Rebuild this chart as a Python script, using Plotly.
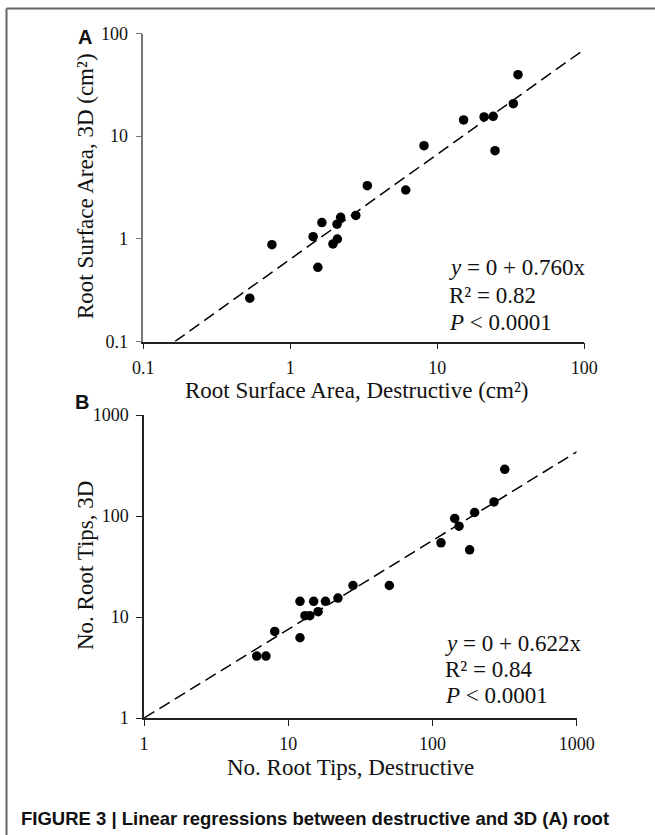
import plotly.graph_objects as go

W, H = 655, 835

# Panel A data: root surface area (cm^2)
a_destructive = [0.53, 0.75, 1.43, 1.54, 1.64, 1.95, 2.09, 2.08, 2.20, 2.79, 3.34, 6.10, 8.12, 15.1, 20.8, 24.0, 24.7, 32.9, 35.4]
a_3d = [0.264, 0.877, 1.05, 0.528, 1.44, 0.891, 0.996, 1.39, 1.62, 1.69, 3.29, 2.99, 8.07, 14.4, 15.4, 15.6, 7.22, 20.7, 39.7]
a_fit_x = [0.164, 100]
a_fit_y = [0.1, 70]
a_ticks = [0.1, 1, 10, 100]
a_ticktext = ["0.1", "1", "10", "100"]

# Panel B data: number of root tips
b_destructive = [6.04, 7.00, 8.05, 12.05, 12.05, 15.0, 18.1, 13.05, 14.1, 16.1, 22.1, 28.1, 50.2, 114.5, 181, 142.6, 152.7, 196, 267, 317]
b_3d = [4.1, 4.1, 7.2, 6.23, 14.3, 14.3, 14.3, 10.3, 10.3, 11.3, 15.4, 20.5, 20.5, 54.2, 46.2, 94.5, 79.3, 108.3, 137.8, 290]
b_fit_x = [1, 1000]
b_fit_y = [1, 432]
b_ticks = [1, 10, 100, 1000]
b_ticktext = ["1", "10", "100", "1000"]

SERIF = "Liberation Serif, Times New Roman, serif"
SANS = "Liberation Sans, Arial, sans-serif"


def px(x):
    return x / W


def py(y):
    return 1 - y / H


fig = go.Figure()

marker = dict(color="black", size=9.5)
dash_line = dict(color="black", width=1.5, dash="12px,6px")

fig.add_trace(go.Scatter(x=a_fit_x, y=a_fit_y, mode="lines", line=dash_line,
                         xaxis="x", yaxis="y", showlegend=False, hoverinfo="skip"))
fig.add_trace(go.Scatter(x=a_destructive, y=a_3d, mode="markers", marker=marker,
                         xaxis="x", yaxis="y", showlegend=False))
fig.add_trace(go.Scatter(x=b_fit_x, y=b_fit_y, mode="lines", line=dash_line,
                         xaxis="x2", yaxis="y2", showlegend=False, hoverinfo="skip"))
fig.add_trace(go.Scatter(x=b_destructive, y=b_3d, mode="markers", marker=marker,
                         xaxis="x2", yaxis="y2", showlegend=False))

tickfont = dict(family=SERIF, size=18, color="#111")


def axis(domain, rng, vals, text, anchor, linecolor="#222", standoff=6):
    return dict(domain=domain, type="log", range=rng, tickmode="array",
                tickvals=vals, ticktext=text, showline=True, linecolor=linecolor,
                linewidth=1.5, ticks="outside", ticklen=6, tickwidth=1.2,
                tickcolor=linecolor, showgrid=False, zeroline=False,
                tickfont=tickfont, anchor=anchor, automargin=False,
                ticklabelstandoff=standoff, fixedrange=True)


fig.update_layout(
    width=W, height=H,
    margin=dict(l=0, r=0, t=0, b=0),
    paper_bgcolor="white", plot_bgcolor="rgba(0,0,0,0)",
    xaxis=axis([px(143.3), px(584.3)], [-1, 2], a_ticks, a_ticktext, "y", standoff=3),
    yaxis=axis([py(341.5), py(33.5)], [-1, 2], a_ticks, a_ticktext, "x", linecolor="#777", standoff=4),
    xaxis2=axis([px(144.1), px(576.7)], [0, 3], b_ticks, b_ticktext, "y2", standoff=3),
    yaxis2=axis([py(718), py(415)], [0, 3], b_ticks, b_ticktext, "x2", standoff=4),
    showlegend=False,
)

ann = []


def text(x, y, t, size=23, family=SERIF, xanchor="left", angle=0, color="#111"):
    ann.append(dict(x=px(x), y=py(y), xref="paper", yref="paper", text=t,
                    showarrow=False, xanchor=xanchor, yanchor="middle",
                    textangle=angle, font=dict(family=family, size=size, color=color)))


# Panel labels
text(85, 37, "<b>A</b>", size=20, family=SANS, xanchor="center")
text(82, 402, "<b>B</b>", size=20, family=SANS, xanchor="center")

# Axis titles
text(356, 391, "Root Surface Area, Destructive (cm²)", xanchor="center")
text(85, 186, "Root Surface Area, 3D (cm²)", xanchor="center", angle=-90)
text(350, 767, "No. Root Tips, Destructive", xanchor="center")
text(85, 566, "No. Root Tips, 3D", xanchor="center", angle=-90)

# Regression statistics
text(446.7, 267, "<i>y</i> = 0 + 0.760x")
text(446.7, 295, "R² = 0.82")
text(446.7, 322, "<i>P</i> &lt; 0.0001")
text(442.7, 643, "<i>y</i> = 0 + 0.622x")
text(442.7, 669, "R² = 0.84")
text(442.7, 695, "<i>P</i> &lt; 0.0001")

# Caption
text(19, 818, "<b>FIGURE 3 | Linear regressions between destructive and 3D (A) root</b>",
     size=18.5, family=SANS)

fig.update_layout(annotations=ann)

# Frame lines (top and left)
fig.add_shape(type="line", xref="paper", yref="paper", x0=px(6.5), x1=1.0,
              y0=py(8.5), y1=py(8.5), line=dict(color="#666", width=2))
fig.add_shape(type="line", xref="paper", yref="paper", x0=px(6.5), x1=px(6.5),
              y0=py(8.5), y1=0, line=dict(color="#666", width=2))

fig.write_html("out.html", config={"displayModeBar": False},
               post_script="document.body.style.margin='0';")
